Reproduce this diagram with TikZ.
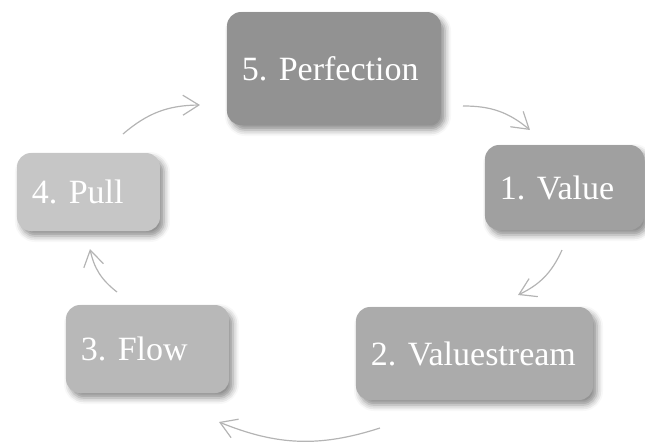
\documentclass[tikz,border=0pt]{standalone}
\usepackage{fontspec}
\setmainfont{Liberation Serif}
\usepackage{tikz}
\usetikzlibrary{arrows.meta, shadows.blur}
\definecolor{perfgray}{HTML}{929292}
\definecolor{valuegray}{HTML}{A0A0A0}
\definecolor{streamgray}{HTML}{ABABAB}
\definecolor{flowgray}{HTML}{B8B8B8}
\definecolor{pullgray}{HTML}{C6C6C6}
\definecolor{arcgray}{HTML}{B4B4B4}
\frenchspacing

\begin{document}
\begin{tikzpicture}[
    x=0.5pt, y=-0.5pt,
    box/.style={rectangle, rounded corners=7pt, inner xsep=7.5pt, inner ysep=0pt,
                align=left, text=white, font=\fontsize{17}{20}\selectfont,
                blur shadow={shadow xshift=2pt, shadow yshift=-2.5pt,
                             shadow blur radius=3pt, shadow opacity=45}},
    arrow/.style={-{Straight Barb[length=8pt, width=10pt]}, line width=0.6pt, arcgray}
]
    \useasboundingbox (0,0) rectangle (645,441);

    % Nodes
    \node[box, fill=perfgray, text width=92pt, minimum height=56.5pt] (perfection) at (334,68.5) {5. Perfection};
    \node[box, fill=valuegray, text width=64.5pt, minimum height=42.5pt] (value) at (564.5,187.5) {1. Value};
    \node[box, fill=streamgray, text width=103.5pt, minimum height=46.5pt] (stream) at (474.5,353.5) {2. Valuestream};
    \node[box, fill=flowgray, text width=66.5pt, minimum height=44pt] (flow) at (147.5,349) {3. Flow};
    \node[box, fill=pullgray, text width=56.5pt, minimum height=39pt] (pull) at (88.5,192) {4. Pull};

    % Arrow ends
    \coordinate (pullout) at (123,134);
    \coordinate (perfin) at (200,105);
    \coordinate (perfout) at (463,106);
    \coordinate (valuein) at (530,130);
    \coordinate (valueout) at (562,250);
    \coordinate (streamin) at (518,295);
    \coordinate (streamout) at (380,428);
    \coordinate (flowin) at (219,422);
    \coordinate (flowout) at (117,292);
    \coordinate (pullin) at (90,249);

    % Arrows
    \draw[arrow] (pullout) to[bend left=20] (perfin);
    \draw[arrow] (perfout) to[bend left=20] (valuein);
    \draw[arrow] (valueout) to[bend left=20] (streamin);
    \draw[arrow] (streamout) to[bend left=20] (flowin);
    \draw[arrow] (flowout) to[bend left=20] (pullin);
\end{tikzpicture}
\end{document}
